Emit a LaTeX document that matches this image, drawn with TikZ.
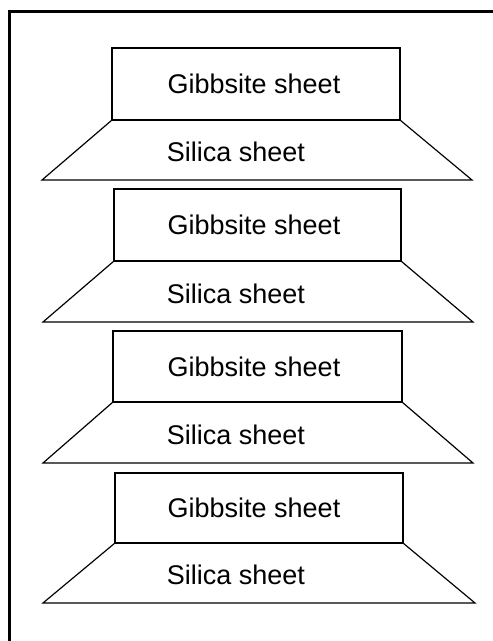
\documentclass[tikz,border=0pt]{standalone}
\usepackage{fontspec}
\setmainfont{Liberation Sans}
\begin{document}
\begin{tikzpicture}[x=1pt,y=-1pt,
  sheetline/.style={draw=black,line width=1.2pt,line join=miter},
  label/.style={font=\fontsize{27}{30}\selectfont,inner sep=0pt,anchor=center},
  frameline/.style={draw=black,line width=3pt}]
\useasboundingbox (0,0) rectangle (493,641);
\fill[white] (0,0) rectangle (493,641);
\coordinate (fa) at (9.5,641);
\coordinate (fb) at (9.5,11);
\coordinate (fc) at (493,11);
\draw[frameline] (fa) -- (fb) -- (fc);
\foreach \i/\top/\mid/\bot/\rl/\rr/\tl/\tr in {1/48/120/180/112/400/42/472, 2/189/261/322/114/401/43/473, 3/331/402/463/113/402/43/473, 4/473/543/603/115/403/43/475}{
  \draw[sheetline] (\rl,\mid) -- (\rl,\top) -- (\rr,\top) -- (\rr,\mid) -- cycle;
  \draw[sheetline] (\rl,\mid) -- (\tl,\bot) -- (\tr,\bot) -- (\rr,\mid);
  \node[label] (g\i) at (254,{(\top+\mid)/2}) {Gibbsite sheet};
  \node[label] (s\i) at (236,{(\mid+\bot)/2+2}) {Silica sheet};
}
\end{tikzpicture}
\end{document}
